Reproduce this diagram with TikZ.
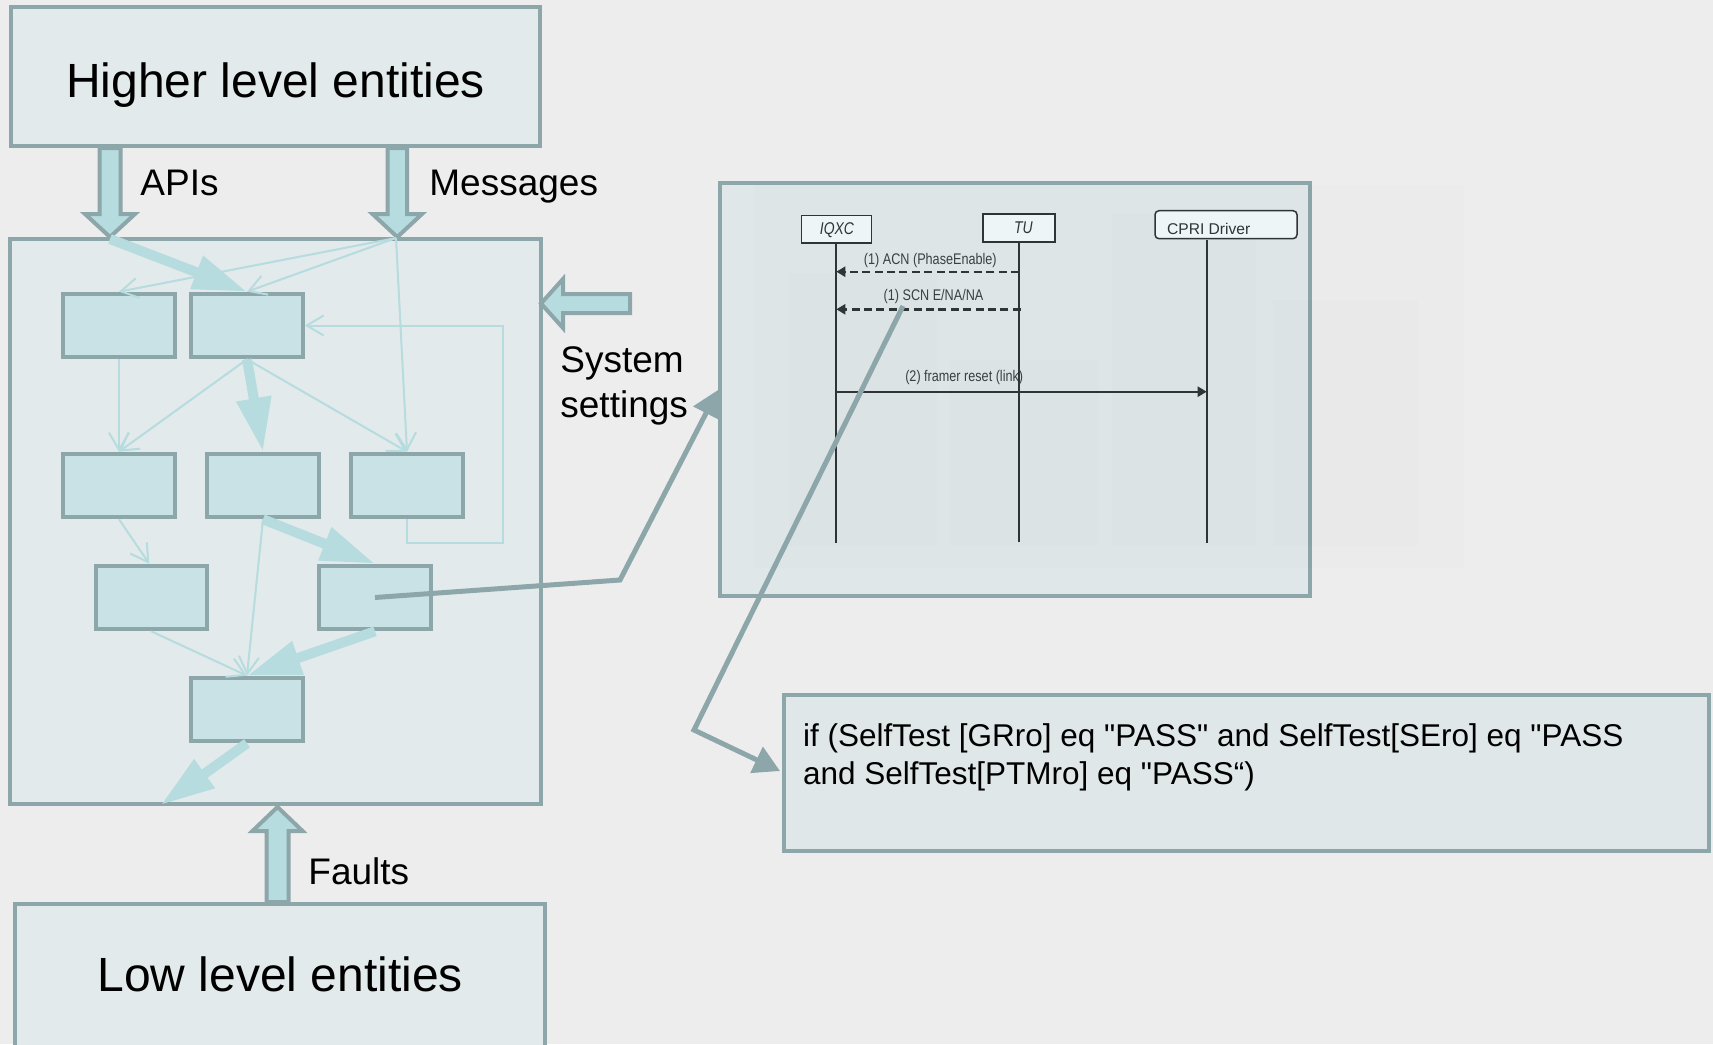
\documentclass[tikz,border=0pt]{standalone}
\usepackage{fontspec}
\setmainfont{Liberation Sans}[Ligatures=TeXOff]
\newfontfamily\narrowfont[FakeStretch=0.82,Ligatures=TeXOff]{Liberation Sans}
\usetikzlibrary{arrows.meta}

\definecolor{canvas}{HTML}{EDEDED}
\definecolor{panelfill}{HTML}{E2EAEB}
\definecolor{edgecol}{HTML}{8CA6A9}
\definecolor{cellfill}{HTML}{C9E2E5}
\definecolor{flowcol}{HTML}{B6DCDF}
\definecolor{seqfill}{HTML}{DFE7E9}
\definecolor{headfill}{HTML}{EEF5F7}
\definecolor{inkcol}{HTML}{2F3436}
\definecolor{labelcol}{HTML}{3A3F40}

\begin{document}
\begin{tikzpicture}[x=0.5pt,y=-0.5pt,
  panel/.style={draw=edgecol,line width=2pt,fill=panelfill,inner sep=0pt},
  cell/.style={draw=edgecol,line width=2pt,fill=cellfill,inner sep=0pt,
               minimum width=55.7pt,minimum height=31.8pt},
  block/.style={draw=edgecol,line width=2pt,fill=flowcol,line join=miter},
  flowthin/.style={draw=flowcol,line width=1pt,
                   -{Straight Barb[length=8.5pt,width=10pt]}},
  flowthick/.style={draw=flowcol,line width=5pt,
                    -{Triangle[length=27pt,width=16.5pt]}},
  hdr/.style={draw=inkcol,line width=0.75pt,fill=headfill,inner sep=0pt},
  life/.style={draw=inkcol,line width=1pt},
  msg/.style={draw=inkcol,line width=1.2pt,-{Triangle[length=4.5pt,width=5pt]}},
  msgdash/.style={msg,dash pattern=on 4pt off 2.2pt},
  link/.style={draw=edgecol,line width=2.5pt,line join=miter,
               -{Triangle[length=13pt,width=14pt]}},
  ghost/.style={fill=black,opacity=0.008},
  bigtext/.style={inner sep=0pt,font=\fontsize{24pt}{28pt}\selectfont},
  midtext/.style={inner sep=0pt,font=\fontsize{18.5pt}{22pt}\selectfont},
  condtext/.style={inner sep=0pt,font=\fontsize{15.75pt}{19pt}\selectfont},
  seqtext/.style={inner sep=0pt,text=labelcol,font=\narrowfont\fontsize{7.7pt}{9pt}\selectfont},
  hdrtext/.style={inner sep=0pt,text=inkcol,font=\narrowfont\itshape\fontsize{8.5pt}{10pt}\selectfont}
]
% canvas
\fill[canvas] (0,0) rectangle (1713,1044);
\useasboundingbox (0,0) rectangle (1713,1044);

% outer panels
\node[panel,minimum width=264.7pt,minimum height=69.5pt] (higher) at (275.3,76.5) {};
\node[panel,minimum width=265.5pt,minimum height=282.5pt] (core) at (275.5,521.5) {};
\node[panel,minimum width=264.8pt,minimum height=74.3pt] (lower) at (280.2,978) {};

% block arrows between the layers
\draw[block] (99.5,148) -- (99.5,214) -- (85,214) -- (110,237) -- (135,214)
  -- (120.5,214) -- (120.5,148) -- cycle;
\draw[block] (387.5,148) -- (387.5,214) -- (372.5,214) -- (397.3,237) -- (422,214)
  -- (407,214) -- (407,148) -- cycle;
\draw[block] (266.5,902) -- (266.5,831) -- (252.5,831) -- (277.5,807) -- (302.5,831)
  -- (288.5,831) -- (288.5,902) -- cycle;
\draw[block] (630,294) -- (563,294) -- (563,279) -- (541,303.5) -- (563,328)
  -- (563,313) -- (630,313) -- cycle;

% inner function cells
\node[cell] (A) at (119,325.5) {};
\node[cell] (B) at (247,325.5) {};
\node[cell] (C) at (119,485.5) {};
\node[cell] (D) at (263,485.5) {};
\node[cell] (E) at (407,485.5) {};
\node[cell] (F) at (151.3,597.5) {};
\node[cell] (G) at (375,597.5) {};
\node[cell] (H) at (247,709.5) {};

\coordinate (apiIn) at (110,239);
\coordinate (msgIn) at (396,238);
\coordinate (outlet) at (160.7,805);

% internal flows
\draw[flowthin] (msgIn) -- (A.north);
\draw[flowthin] (msgIn) -- (B.north);
\draw[flowthin] (msgIn) -- (E.north);
\draw[flowthin] (A.south) -- (C.north);
\draw[flowthin] (B.south) -- (C.north);
\draw[flowthin] (B.south) -- (E.north);
\draw[flowthin] (E.south) -- (407,543) -- (503,543) -- (503,325.5) -- (B.east);
\draw[flowthin] (C.south) -- ([xshift=-1pt]F.north);
\draw[flowthin] (D.south) -- (H.north);
\draw[flowthin] (F.south) -- (H.north);

\draw[flowthick] (apiIn) -- (B.north);
\draw[flowthick] (B.south) -- ([xshift=8pt]B.south |- D.north);
\draw[flowthick] (D.south) -- (G.north);
\draw[flowthick] (G.south) -- (H.north);
\draw[flowthick] (H.south) -- (outlet);

% sequence chart panel
\coordinate (seqIn) at (718,390);
\draw[link] (G.center) -- (620,580) -- (seqIn);
\node[panel,fill=seqfill,minimum width=295pt,minimum height=206.5pt] (seq) at (1015,389.5) {};
\fill[ghost] (754,185) rectangle (1464,568);
\fill[ghost] (789,273) rectangle (937,546);
\fill[ghost] (950,360) rectangle (1098,546);
\fill[ghost] (1112,213) rectangle (1256,546);
\fill[ghost] (1273,300) rectangle (1418,546);

\node[hdr,minimum width=35pt,minimum height=13.75pt] (iqxc) at (836.3,229.3) {};
\node[hdr,minimum width=36pt,minimum height=14pt] (tu) at (1019,227.8) {};
\node[hdr,rounded corners=2pt,minimum width=71pt,minimum height=14pt] (cpri) at (1226,224.7) {};
\node[hdrtext,anchor=base] (iqxcTxt) at (837,234) {IQXC};
\node[hdrtext,anchor=base] (tuTxt) at (1023.3,233) {TU};
\node[inner sep=0pt,anchor=base west,text=inkcol,
      font=\fontsize{7.8pt}{9pt}\selectfont] (cpriTxt) at (1166.7,234) {CPRI Driver};

\coordinate (iqxcEnd) at (836.3,543);
\coordinate (tuEnd) at (1019,542);
\coordinate (cpriTop) at (1206.7,239.5);
\coordinate (cpriEnd) at (1206.7,543);
\draw[life] (iqxc.south) -- (iqxcEnd);
\draw[life] (tu.south) -- (tuEnd);
\draw[life] (cpriTop) -- (cpriEnd);

\coordinate (acnFrom) at (1019,271.7);
\coordinate (acnTo) at (836.3,271.7);
\coordinate (scnFrom) at (1020.7,309.3);
\coordinate (scnTo) at (836.3,309.3);
\coordinate (rstFrom) at (836.3,391.7);
\coordinate (rstTo) at (1206.7,391.7);
\draw[msgdash] (acnFrom) -- (acnTo);
\draw[msgdash] (scnFrom) -- (scnTo);
\draw[msg] (rstFrom) -- (rstTo);
\node[seqtext,anchor=base] (acnTxt) at (930.3,264.3) {(1) ACN (PhaseEnable)};
\node[seqtext,anchor=base] (scnTxt) at (933.5,300.7) {(1) SCN E/NA/NA};
\node[seqtext,anchor=base] (rstTxt) at (964.2,381.7) {(2) framer reset (link)};

% condition panel
\node[panel,fill=seqfill,minimum width=462.5pt,minimum height=78pt] (cond) at (1246.5,773) {};
\node[condtext,anchor=base west] (condA) at (802.7,746.7) {if (SelfTest [GRro] eq "PASS" and SelfTest[SEro] eq "PASS};
\node[condtext,anchor=base west] (condB) at (802.7,784.4) {and SelfTest[PTMro] eq "PASS“)};

\coordinate (scnTap) at (903,306);
\coordinate (condIn) at (780,771);
\draw[link] (scnTap) -- (694,730) -- (condIn);

% captions
\node[bigtext,anchor=base] (higherTxt) at (275.5,97) {Higher level entities};
\node[bigtext,anchor=base] (lowerTxt) at (280.3,991.7) {Low level entities};
\node[midtext,anchor=base west] (apiTxt) at (140,195) {APIs};
\node[midtext,anchor=base west] (msgTxt) at (429,195) {Messages};
\node[midtext,anchor=base west] (sysTxtA) at (560,372) {System};
\node[midtext,anchor=base west] (sysTxtB) at (560,417) {settings};
\node[midtext,anchor=base west] (faultTxt) at (308,884) {Faults};
\end{tikzpicture}
\end{document}
